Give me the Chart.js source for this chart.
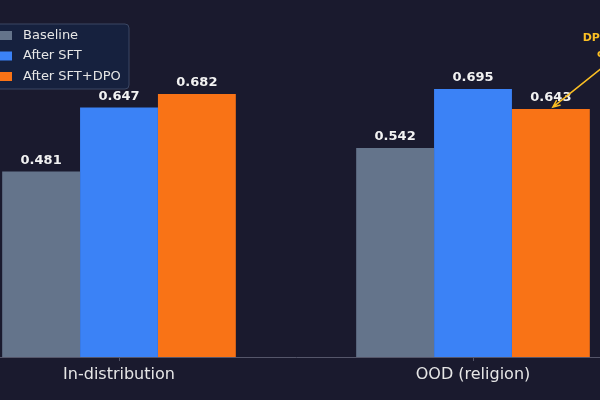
<!DOCTYPE html>
<html>
<head>
<meta charset="utf-8">
<script src="https://cdn.jsdelivr.net/npm/chart.js@4"></script>
<style>
  html, body { margin: 0; padding: 0; background: #1a1a2e; }
  #frame { position: relative; width: 600px; height: 400px; overflow: hidden; background: #1a1a2e; }
  #chart { position: absolute; left: -58px; top: 0; }
</style>
</head>
<body>
<div id="frame">
  <canvas id="chart" width="708" height="400"></canvas>
</div>
<script>
const categories = ['In-distribution', 'OOD (religion)'];
const seriesNames = ['Baseline', 'After SFT', 'After SFT+DPO'];
const baseline = [0.481, 0.542];
const afterSft = [0.647, 0.695];
const afterSftDpo = [0.682, 0.643];
const seriesColors = ['#64748b', '#3b82f6', '#f97316'];

const FONT = "'DejaVu Sans', sans-serif";

// value labels on top of every bar
const valueLabels = {
    id: 'valueLabels',
    afterDatasetsDraw(chart) {
        const ctx = chart.ctx;
        ctx.save();
        ctx.font = 'bold 13px ' + FONT;
        ctx.fillStyle = '#f2f2f2';
        ctx.textAlign = 'center';
        ctx.textBaseline = 'alphabetic';
        chart.data.datasets.forEach((ds, i) => {
            chart.getDatasetMeta(i).data.forEach((bar, j) => {
                ctx.fillText(ds.data[j].toFixed(3), bar.x, bar.y - 8);
            });
        });
        ctx.restore();
    }
};

// framed legend, upper left
const boxLegend = {
    id: 'boxLegend',
    afterDraw(chart) {
        const ctx = chart.ctx;
        const left = 36, top = 24, w = 151, h = 65;
        ctx.save();
        ctx.beginPath();
        ctx.roundRect(left, top, w, h, 4);
        ctx.fillStyle = '#16213e';
        ctx.fill();
        ctx.strokeStyle = '#3b4763';
        ctx.lineWidth = 1;
        ctx.stroke();
        ctx.font = '13px ' + FONT;
        ctx.textBaseline = 'middle';
        chart.data.datasets.forEach((ds, i) => {
            const cy = top + 11.5 + i * 20.5;
            ctx.fillStyle = ds.backgroundColor;
            ctx.fillRect(left + 8, cy - 4.5, 26, 9);
            ctx.fillStyle = '#e6e6e6';
            ctx.fillText(ds.label, left + 45, cy);
        });
        ctx.restore();
    }
};

// annotation arrow pointing at the OOD DPO bar
const dpoNote = {
    id: 'dpoNote',
    afterDraw(chart) {
        const ctx = chart.ctx;
        const bar = chart.getDatasetMeta(2).data[1];
        const hx = bar.x + 2, hy = bar.y - 2;
        const tx = bar.x + 62, ty = bar.y - 50;
        ctx.save();
        ctx.strokeStyle = '#fbbf24';
        ctx.fillStyle = '#fbbf24';
        ctx.lineWidth = 1.5;
        ctx.beginPath();
        ctx.moveTo(tx, ty);
        ctx.lineTo(hx, hy);
        const a = Math.atan2(hy - ty, hx - tx);
        const len = 8;
        ctx.moveTo(hx - len * Math.cos(a - 0.4), hy - len * Math.sin(a - 0.4));
        ctx.lineTo(hx, hy);
        ctx.lineTo(hx - len * Math.cos(a + 0.4), hy - len * Math.sin(a + 0.4));
        ctx.stroke();
        ctx.font = 'bold 11px ' + FONT;
        ctx.textAlign = 'center';
        ctx.textBaseline = 'middle';
        ctx.fillText('DPO slightly', bar.x + 70, bar.y - 71);
        ctx.fillText('overfits', bar.x + 70, bar.y - 55);
        ctx.restore();
    }
};

const seriesData = [baseline, afterSft, afterSftDpo];

new Chart(document.getElementById('chart'), {
    type: 'bar',
    data: {
        labels: categories,
        datasets: seriesNames.map((name, i) => ({
            label: name,
            data: seriesData[i],
            backgroundColor: seriesColors[i],
            borderWidth: 0,
            barPercentage: 1,
            categoryPercentage: 0.66
        }))
    },
    options: {
        responsive: false,
        animation: false,
        layout: { padding: 0 },
        plugins: {
            legend: { display: false },
            tooltip: { enabled: false }
        },
        scales: {
            x: {
                offset: true,
                grid: {
                    offset: false,
                    drawOnChartArea: false,
                    drawTicks: true,
                    tickLength: 4,
                    color: '#55566a'
                },
                border: { display: true, color: '#55566a', width: 1 },
                ticks: {
                    color: '#e6e6e6',
                    font: { family: FONT, size: 16 },
                    padding: 4
                },
                afterFit(scale) { scale.height = 43; }
            },
            y: {
                display: false,
                min: 0,
                max: 0.926
            }
        }
    },
    plugins: [valueLabels, boxLegend, dpoNote]
});
</script>
</body>
</html>
